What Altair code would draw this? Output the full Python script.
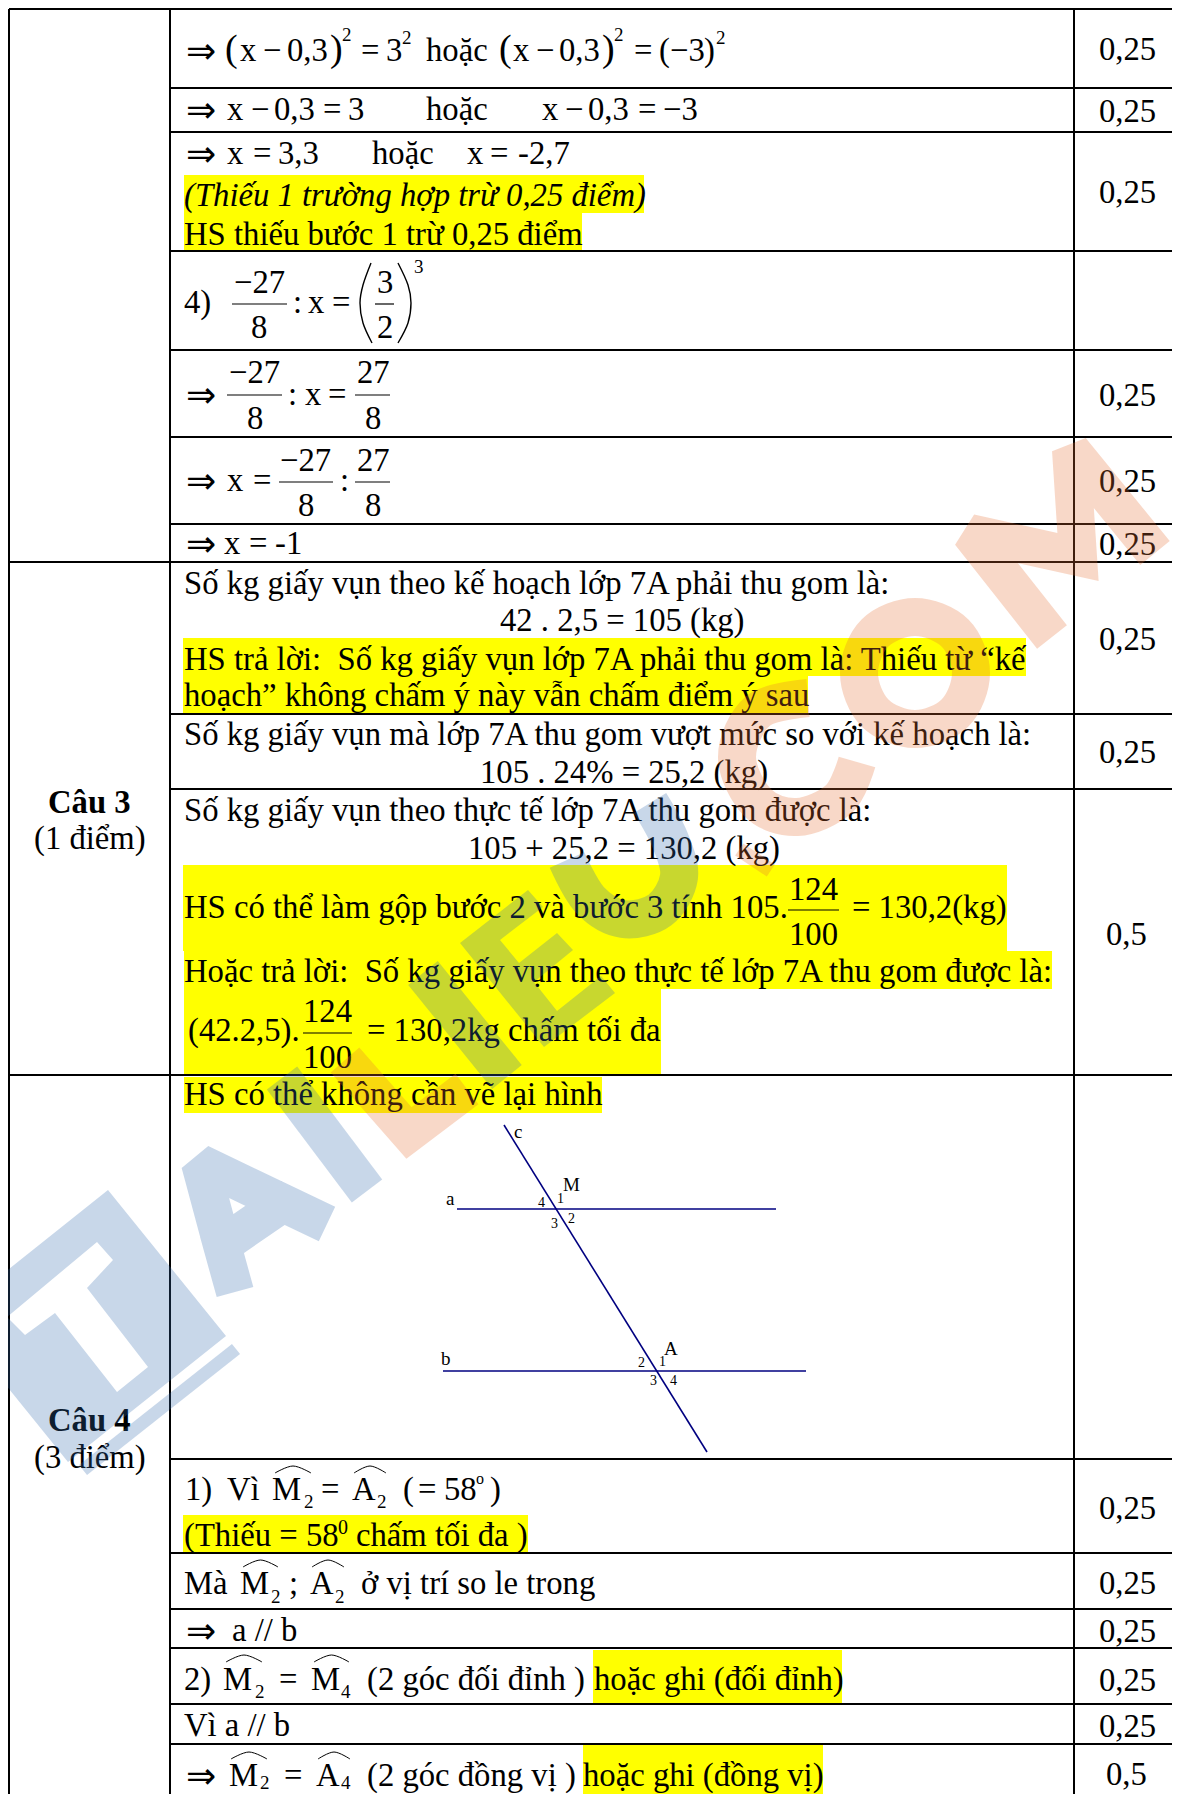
import altair as alt
import pandas as pd

S = 32.7   # body font size
SUP = 19
BOTTOM = 1794
RIGHT = 1172  # the page's content box ends here

# ---------- table grid ----------
grid_h = [(9,RIGHT,9),(170,RIGHT,88),(170,RIGHT,132),(170,RIGHT,251),(170,RIGHT,350),(170,RIGHT,437),
          (170,RIGHT,524),(9,RIGHT,562),(170,RIGHT,714),(170,RIGHT,789),(9,RIGHT,1075),(170,RIGHT,1459),
          (170,RIGHT,1553),(170,RIGHT,1609),(170,RIGHT,1648),(170,RIGHT,1704),(170,RIGHT,1744)]
grid_v = [(9,9,BOTTOM),(170,9,BOTTOM),(1074,9,BOTTOM)]

# ---------- yellow highlights (x, x2, y, y2) ----------
highlights = [(184,644,175,213),(184,582,213,250),(183,1026,638,676),(183,808,676,713),
              (183,1007,865,951),(184,1052,951,989),(184,661,989,1074),(184,602,1077,1113),
              (183,528,1515,1552),(593,842,1650,1703),(583,823,1745,BOTTOM)]

# ---------- fraction bars (x, x2, y) ----------
fractions = [(232,287,304),(375,394,304),(227,282,395),(355,390,395),(279,333,482),(355,390,482),
             (788,839,910),(303,352,1033)]

# ---------- figure lines (x, y, x2, y2) ----------
figure_lines = [(504,1125,707,1452),(457,1209,776,1209),(443,1371,806,1371)]

# ---------- hats over angles (x0, x1, y top) ----------
hats = [(275,311,1466),(354,386,1466),(243,278,1560),(312,344,1560),(226,262,1655),(314,349,1655),
        (231,267,1752),(318,350,1752)]

# ---------- tall brackets around 3/2 ----------
brackets = {"left": [(371,263),(363,285),(360,303),(363,323),(372,343)],
            "right": [(398,263),(408,285),(411,303),(408,323),(398,343)]}

# ---------- implication arrows (x, baseline, text, size) ----------
arrows = [(186,y,"⇒",36) for y in [60,119,163,404,490,553,1640,1785]]

# ---------- text ----------
row1 = [(225,60,"(",38),(240,60,"x",S),(263,60,"−",S),(287,60,"0,3",S),(330,60,")",38),
        (342,40,"2",SUP),(361,60,"=",S),(386,60,"3",S),(402,43,"2",SUP),(426,60,"hoặc",S),(499,60,"(",38),
        (513,60,"x",S),(536,60,"−",S),(559,60,"0,3",S),(602,60,")",38),(614,40,"2",SUP),(634,60,"=",S),
        (659,60,"(",S),(670,60,"−3",S),(704,60,")",S),(716,43,"2",SUP)]
row2 = [(227,119,"x",S),(251,119,"−",S),(274,119,"0,3",S),(323,119,"=",S),(348,119,"3",S),
        (426,119,"hoặc",S),(542,119,"x",S),(565,119,"−",S),(588,119,"0,3",S),(638,119,"=",S),(663,119,"−3",S)]
row3 = [(227,163,"x",S),(253,163,"=",S),(278,163,"3,3",S),(372,163,"hoặc",S),
        (467,163,"x",S),(490,163,"=",S),(518,163,"-2,7",S),
        (184,244,"HS thiếu bước 1 trừ 0,25 điểm",S)]
row4 = [(184,312,"4)",S),(234,292,"−27",S),(251,337,"8",S),(293,312,":",S),(308,312,"x",S),(332,312,"=",S),
        (377,292,"3",S),(377,337,"2",S),(414,272,"3",SUP)]
row5 = [(229,382,"−27",S),(247,428,"8",S),(288,404,":",S),(305,404,"x",S),(328,404,"=",S),
        (357,382,"27",S),(365,428,"8",S)]
row6 = [(227,490,"x",S),(253,490,"=",S),(280,470,"−27",S),(298,515,"8",S),(340,490,":",S),
        (357,470,"27",S),(365,515,"8",S)]
row7 = [(224,553,"x",S),(249,553,"=",S),(275,553,"-1",S)]
cau3 = [(184,593,"Số kg giấy vụn theo kế hoạch lớp 7A phải thu gom là:",S),
        (500,630,"42 . 2,5 = 105 (kg)",S),
        (184,669,"HS trả lời:\u00a0 Số kg giấy vụn lớp 7A phải thu gom là: Thiếu từ “kế",S),
        (184,705,"hoạch” không chấm ý này vẫn chấm điểm ý sau",S),
        (184,744,"Số kg giấy vụn mà lớp 7A thu gom vượt mức so với kế hoạch là:",S),
        (480,782,"105 . 24% = 25,2 (kg)",S),
        (184,820,"Số kg giấy vụn theo thực tế lớp 7A thu gom được là:",S),
        (468,858,"105 + 25,2 = 130,2 (kg)",S),
        (184,917,"HS có thể làm gộp bước 2 và bước 3 tính 105.",S),
        (789,899,"124",S),(789,944,"100",S),(852,917,"= 130,2(kg)",S),
        (184,981,"Hoặc trả lời:\u00a0 Số kg giấy vụn theo thực tế lớp 7A thu gom được là:",S),
        (188,1040,"(42.2,5).",S),(303,1021,"124",S),(303,1067,"100",S),(367,1040,"= 130,2kg chấm tối đa",S),
        (34,848,"(1 điểm)",S),(34,1467,"(3 điểm)",S)]
cau4 = [(184,1104,"HS có thể không cần vẽ lại hình",S),
        (185,1499,"1)",S),(227,1499,"Vì",S),(272,1499,"M",S),(304,1507,"2",SUP),(321,1499,"=",S),(352,1499,"A",S),
        (377,1507,"2",SUP),(403,1499,"(",S),(418,1499,"=",S),(444,1499,"58",S),(476,1483,"o",16),(490,1499,")",S),
        (184,1545,"(Thiếu = 58",S),(338,1533,"0",20),(356,1545,"chấm tối đa )",S),
        (184,1593,"Mà",S),(240,1593,"M",S),(271,1602,"2",SUP),(289,1593,";",S),(310,1593,"A",S),(335,1602,"2",SUP),
        (361,1593,"ở vị trí so le trong",S),
        (232,1640,"a // b",S),
        (184,1689,"2)",S),(223,1689,"M",S),(255,1697,"2",SUP),(279,1689,"=",S),(311,1689,"M",S),(341,1697,"4",SUP),
        (367,1689,"(2 góc đối đỉnh )",S),(594,1689,"hoặc ghi (đối đỉnh)",S),
        (184,1735,"Vì a // b",S),
        (229,1785,"M",S),(260,1788,"2",SUP),(284,1785,"=",S),(316,1785,"A",S),(341,1788,"4",SUP),
        (367,1785,"(2 góc đồng vị )",S),(583,1785,"hoặc ghi (đồng vị)",S)]
figure_labels = [(514,1138,"c",19),(563,1191,"M",19),(446,1205,"a",19),(538,1207,"4",14),(557,1203,"1",14),
                 (551,1228,"3",14),(568,1223,"2",14),(441,1365,"b",19),(664,1355,"A",19),(638,1367,"2",14),
                 (659,1366,"1",14),(650,1385,"3",14),(670,1385,"4",14)]
scores = [(1099,60,"0,25",S),(1099,122,"0,25",S),(1099,203,"0,25",S),(1099,406,"0,25",S),(1099,492,"0,25",S),
          (1099,555,"0,25",S),(1099,650,"0,25",S),(1099,763,"0,25",S),(1106,945,"0,5",S),(1099,1519,"0,25",S),
          (1099,1594,"0,25",S),(1099,1642,"0,25",S),(1099,1691,"0,25",S),(1099,1737,"0,25",S),(1106,1785,"0,5",S)]
italic_text = [(184,206,"(Thiếu 1 trường hợp trừ 0,25 điểm)",S)]
bold_text = [(48,812,"Câu 3",S),(48,1430,"Câu 4",S)]

# ---------- watermark strokes ----------
PEACH = "#E66F34"
BLUE = "#346BAE"
A_OPACITY = 0.27
blue_linear = {
    "A": [(235,1292),(222,1245),(283,1203),(327,1224),(283,1203),(200,1163),(222,1245)],
    "I1": [(367,1191),(282,1078)],
    "I2": [(507,1077),(423,973)],
}
stripe = [(236,1349),(83,1470)]
blue_smooth = {"U": [(567,860),(590,900),(623,919),(660,910),(679,877),(670,840),(650,803)]}
peach_linear = {
    "L": [(345,1060),(409,1133),(467,1089)],
    "dot": [(751,866),(759,854)],
    "M": [(1052,637),(970,533),(1078,557),(1071,450),(1155,553)],
}
peach_smooth = {"C": [(808,698),(758,711),(737,757),(758,803),(797,817),(839,799),(857,762)]}
peach_closed = {"O": [(971,673),(955,713),(915,729),(875,713),(859,673),(875,633),(915,617),(955,633)]}

# polygons: logo box with the T cut out, letter E
logo_box = [(-50,1316),(108,1190),(226,1336),(68,1462),(-50,1316)]
logo_t = [(25,1335),(55,1313),(117,1392),(148,1367),(87,1288),(113,1260),(97,1242),(7,1317),(25,1335)]
letter_e = [(460,943),(528,890),(543,907),(500,940),(519,963),(557,933),(573,950),(534,982),(557,1011),
            (601,976),(615,993),(544,1047),(460,943)]

# ---------- scales ----------
xs = alt.Scale(domain=[8,RIGHT], nice=False, zero=False)
ys = alt.Scale(domain=[BOTTOM,8], nice=False, zero=False)
X = lambda f: alt.X(f"{f}:Q", scale=xs, axis=None)
Y = lambda f: alt.Y(f"{f}:Q", scale=ys, axis=None)

def text_layer(items, font="Liberation Serif", **mark):
    df = pd.DataFrame(items, columns=["x","y","t","s"])
    return alt.Chart(df).mark_text(align="left", baseline="alphabetic", font=font,
                                   color="black", **mark).encode(
        x=X("x"), y=Y("y"), text="t:N", size=alt.Size("s:Q", scale=None, legend=None))

def rule_layer(rows, color, width):
    df = pd.DataFrame(rows, columns=["x","y","x2","y2"])
    return alt.Chart(df).mark_rule(color=color, strokeWidth=width).encode(
        x=X("x"), y=Y("y"), x2="x2:Q", y2="y2:Q")

def stroke_layer(letters, color, width=38, interpolate="linear"):
    rows = [dict(letter=k, i=i, x=p[0], y=p[1]) for k, pts in letters.items() for i, p in enumerate(pts)]
    return alt.Chart(pd.DataFrame(rows)).mark_line(
        color=color, strokeWidth=width, strokeOpacity=A_OPACITY, interpolate=interpolate,
        strokeCap="butt", strokeJoin="miter", strokeMiterLimit=2).encode(
        x=X("x"), y=Y("y"), detail="letter:N", order="i:Q")

def polygon_layer(rings, color):
    feature = {"type":"Feature","properties":{},"geometry":{"type":"Polygon",
               "coordinates":[[list(p) for p in r] for r in rings]}}
    return alt.Chart(alt.Data(values=[feature])).mark_geoshape(
        fill=color, fillOpacity=A_OPACITY, strokeWidth=0).project(type="identity", scale=1, translate=[-8,-8])

hl_df = pd.DataFrame(highlights, columns=["x","x2","y","y2"])
hl = alt.Chart(hl_df).mark_rect(color="#FFFF00").encode(x=X("x"), x2="x2:Q", y=Y("y"), y2="y2:Q")

grid_rows = [(a,y,b,y) for a,b,y in grid_h] + [(x,y0,x,y1) for x,y0,y1 in grid_v]
frac_rows = [(a,y,b,y) for a,b,y in fractions]

hat_rows = []
for n,(a,b,t) in enumerate(hats):
    hat_rows += [dict(n=n,i=0,x=a,y=t+7),dict(n=n,i=1,x=(a+b)/2,y=t),dict(n=n,i=2,x=b,y=t+7)]
hat_layer = alt.Chart(pd.DataFrame(hat_rows)).mark_line(color="black", strokeWidth=1, interpolate="cardinal").encode(
    x=X("x"), y=Y("y"), detail="n:N", order="i:Q")

bracket_rows = [dict(n=k,i=i,x=p[0],y=p[1]) for k,pts in brackets.items() for i,p in enumerate(pts)]
bracket_layer = alt.Chart(pd.DataFrame(bracket_rows)).mark_line(color="black", strokeWidth=1.4, interpolate="cardinal").encode(
    x=X("x"), y=Y("y"), detail="n:N", order="i:Q")

body = row1+row2+row3+row4+row5+row6+row7+cau3+cau4

chart = alt.layer(
    hl,
    rule_layer(grid_rows, "black", 2),
    rule_layer(frac_rows, "black", 1.2),
    rule_layer(figure_lines, "#000080", 1.6),
    text_layer(body, dy=1),
    text_layer(figure_labels+scores),
    text_layer(arrows, font="DejaVu Sans", dy=3),
    text_layer(italic_text, fontStyle="italic"),
    text_layer(bold_text, fontWeight="bold", dy=1),
    hat_layer,
    bracket_layer,
    polygon_layer([logo_box, logo_t], BLUE),
    polygon_layer([letter_e], BLUE),
    stroke_layer(blue_linear, BLUE),
    stroke_layer({"stripe": stripe}, BLUE, width=13),
    stroke_layer(blue_smooth, BLUE, interpolate="cardinal"),
    stroke_layer(peach_linear, PEACH),
    stroke_layer(peach_smooth, PEACH, interpolate="cardinal"),
    stroke_layer(peach_closed, PEACH, interpolate="cardinal-closed"),
).resolve_scale(x="shared", y="shared").properties(
    width=RIGHT-8, height=BOTTOM-8, padding=0, autosize=alt.AutoSizeParams(type="none"),
    background="white"
).configure_view(stroke=None)

chart.save("out.html", embed_options={"renderer": "svg", "actions": False})
